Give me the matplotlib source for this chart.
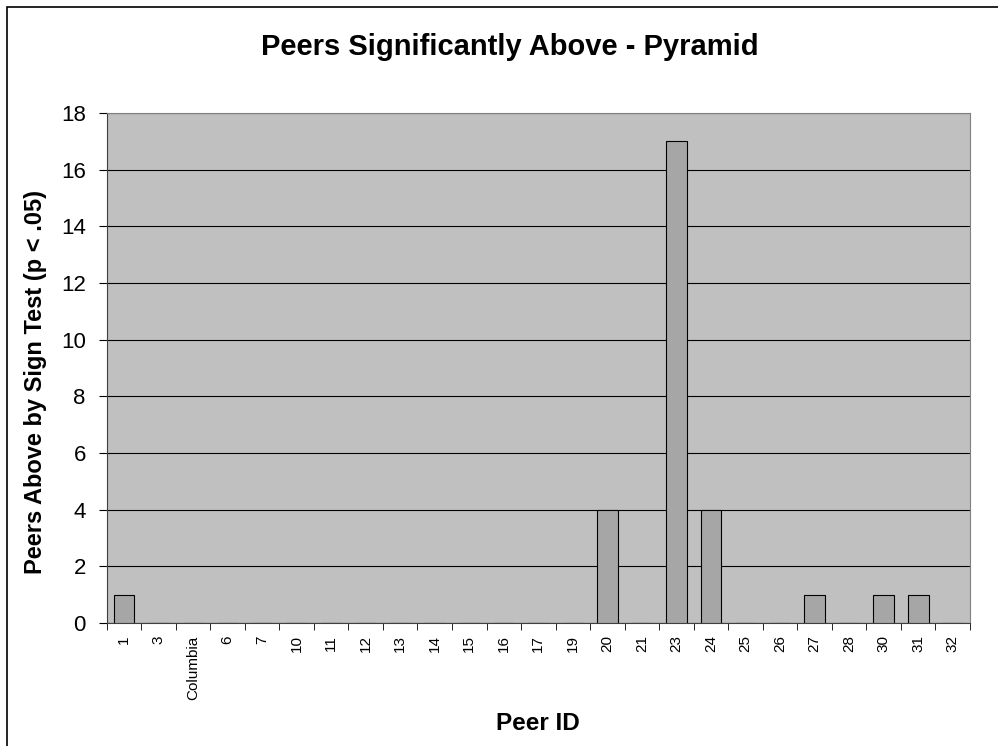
import matplotlib
matplotlib.use('Agg')

import matplotlib.pyplot as plt
from matplotlib.patches import Rectangle

peers = ['1', '3', 'Columbia', '6', '7', '10', '11', '12', '13', '14', '15', '16',
         '17', '19', '20', '21', '23', '24', '25', '26', '27', '28', '30', '31', '32']
above = [1, 0, 0, 0, 0, 0, 0, 0, 0, 0, 0, 0,
         0, 0, 4, 0, 17, 4, 0, 0, 1, 0, 1, 1, 0]

plt.rcParams['font.family'] = ['Liberation Sans', 'DejaVu Sans']

fig = plt.figure(figsize=(9.98, 7.46), dpi=100)
ax = fig.add_axes([106.7 / 998, 1 - 623 / 746, (970 - 106.7) / 998, (623 - 113) / 746])

x = range(len(peers))
ax.bar(x, above, width=0.6, color='#a6a6a6', edgecolor='black', linewidth=0.8, zorder=3)

ax.set_facecolor('#c0c0c0')
ax.set_xlim(-0.5, len(peers) - 0.5)
ax.set_ylim(0, 18)
ax.set_yticks(range(0, 19, 2))
ax.yaxis.grid(True, color='black', linewidth=0.8, zorder=1)
ax.set_axisbelow(True)

ax.set_xticks(x)
ax.set_xticklabels(peers, rotation=90, fontsize=11)
ax.tick_params(axis='x', length=0, pad=9)
ax.set_xticks([i + 0.5 for i in range(-1, len(peers))], minor=True)
ax.tick_params(axis='x', which='minor', length=5, direction='out', color='black')
ax.tick_params(axis='y', labelsize=16, length=6, direction='out', pad=9)

for s in ['left', 'bottom']:
    ax.spines[s].set_color('#404040')
for s in ['top', 'right']:
    ax.spines[s].set_color('#808080')

fig.text(36 / 998, 1 - 382 / 746, 'Peers Above by Sign Test (p < .05)', rotation=90,
         ha='center', va='center', fontsize=17, fontweight='bold')
fig.text(538 / 998, 1 - 723 / 746, 'Peer ID', ha='center', va='center',
         fontsize=17.5, fontweight='bold')
fig.text(510 / 998, 1 - 47 / 746, 'Peers Significantly Above - Pyramid',
         ha='center', va='center', fontsize=21, fontweight='bold')

fig.patches.append(Rectangle((7 / 998, -0.1), 1.2, 1 - 7 / 746 + 0.1, fill=False,
                             edgecolor='black', linewidth=1.2, transform=fig.transFigure))

fig.savefig('out.png', dpi=100)
